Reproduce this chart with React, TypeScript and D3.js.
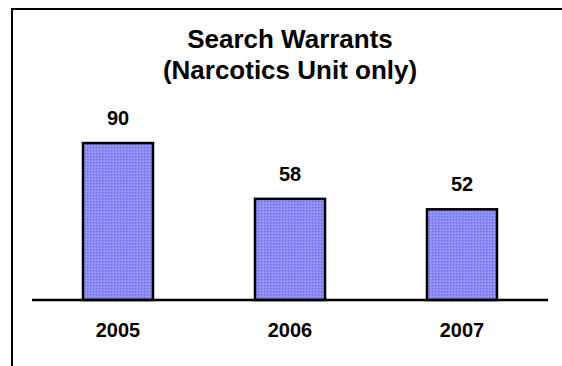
// Libraries
import { useEffect, useRef } from 'react';
import * as d3 from 'd3';

const years = ['2005', '2006', '2007'];
const warrants = [90, 58, 52];
const titleLines = ['Search Warrants', '(Narcotics Unit only)'];

const width = 562;
const height = 366;
const baseline = 300;

function drawChart(node: SVGSVGElement) {
    const svg = d3.select(node);
    svg.selectAll('*').remove();

    // dotted blue fill like the old office charts
    const pattern = svg.append('defs')
      .append('pattern')
      .attr('id', 'dots')
      .attr('width', 3)
      .attr('height', 3)
      .attr('patternUnits', 'userSpaceOnUse');
    pattern.append('rect').attr('width', 3).attr('height', 3).attr('fill', '#8c8cf4');
    pattern.append('rect').attr('x', 0).attr('y', 0).attr('width', 1).attr('height', 1).attr('fill', '#6a6adc');
    pattern.append('rect').attr('x', 2).attr('y', 2).attr('width', 1).attr('height', 1).attr('fill', '#a4a4ff');

    const x = d3.scaleBand()
      .domain(years)
      .range([32, 548])
      .paddingInner(0.593)
      .paddingOuter(0.2965);

    const y = d3.scaleLinear()
      .domain([0, 100])
      .range([baseline, baseline - 174.4]);

    // frame (only top and left show inside the picture)
    svg.append('path')
      .attr('d', `M12,${height} L12,9 L${width},9`)
      .attr('fill', 'none')
      .attr('stroke', '#000')
      .attr('stroke-width', 2);

    // title
    svg.selectAll('text.title')
      .data(titleLines)
      .join('text')
      .attr('class', 'title')
      .attr('x', 290)
      .attr('y', (d, i) => 48 + i * 31)
      .attr('text-anchor', 'middle')
      .attr('font-family', 'Liberation Sans, Arial, sans-serif')
      .attr('font-weight', 'bold')
      .attr('font-size', 26)
      .text(d => d);

    svg.selectAll('rect.bar')
      .data(warrants)
      .join('rect')
      .attr('class', 'bar')
      .attr('x', (d, i) => x(years[i]) as number)
      .attr('width', x.bandwidth())
      .attr('y', d => y(d))
      .attr('height', d => baseline - y(d))
      .attr('fill', 'url(#dots)')
      .attr('stroke', '#000')
      .attr('stroke-width', 2.5);

    svg.selectAll('text.value')
      .data(warrants)
      .join('text')
      .attr('class', 'value')
      .attr('x', (d, i) => (x(years[i]) as number) + x.bandwidth() / 2)
      .attr('y', d => y(d) - 18)
      .attr('text-anchor', 'middle')
      .attr('font-family', 'Liberation Sans, Arial, sans-serif')
      .attr('font-weight', 'bold')
      .attr('font-size', 20)
      .text(d => d);

    // category axis
    svg.append('line')
      .attr('x1', x.range()[0])
      .attr('x2', x.range()[1])
      .attr('y1', baseline)
      .attr('y2', baseline)
      .attr('stroke', '#000')
      .attr('stroke-width', 2.5);

    svg.selectAll('text.year')
      .data(years)
      .join('text')
      .attr('class', 'year')
      .attr('x', d => (x(d) as number) + x.bandwidth() / 2)
      .attr('y', 337)
      .attr('text-anchor', 'middle')
      .attr('font-family', 'Liberation Sans, Arial, sans-serif')
      .attr('font-weight', 'bold')
      .attr('font-size', 20)
      .text(d => d);
}

export default function App() {
    const ref = useRef<SVGSVGElement>(null);

    useEffect(() => {
        if (ref.current) drawChart(ref.current);
    }, []);

    return (
        <svg ref={ref} width={width} height={height}
          style={{ position: 'absolute', left: 0, top: 0, background: '#fff' }} />
    );
}
